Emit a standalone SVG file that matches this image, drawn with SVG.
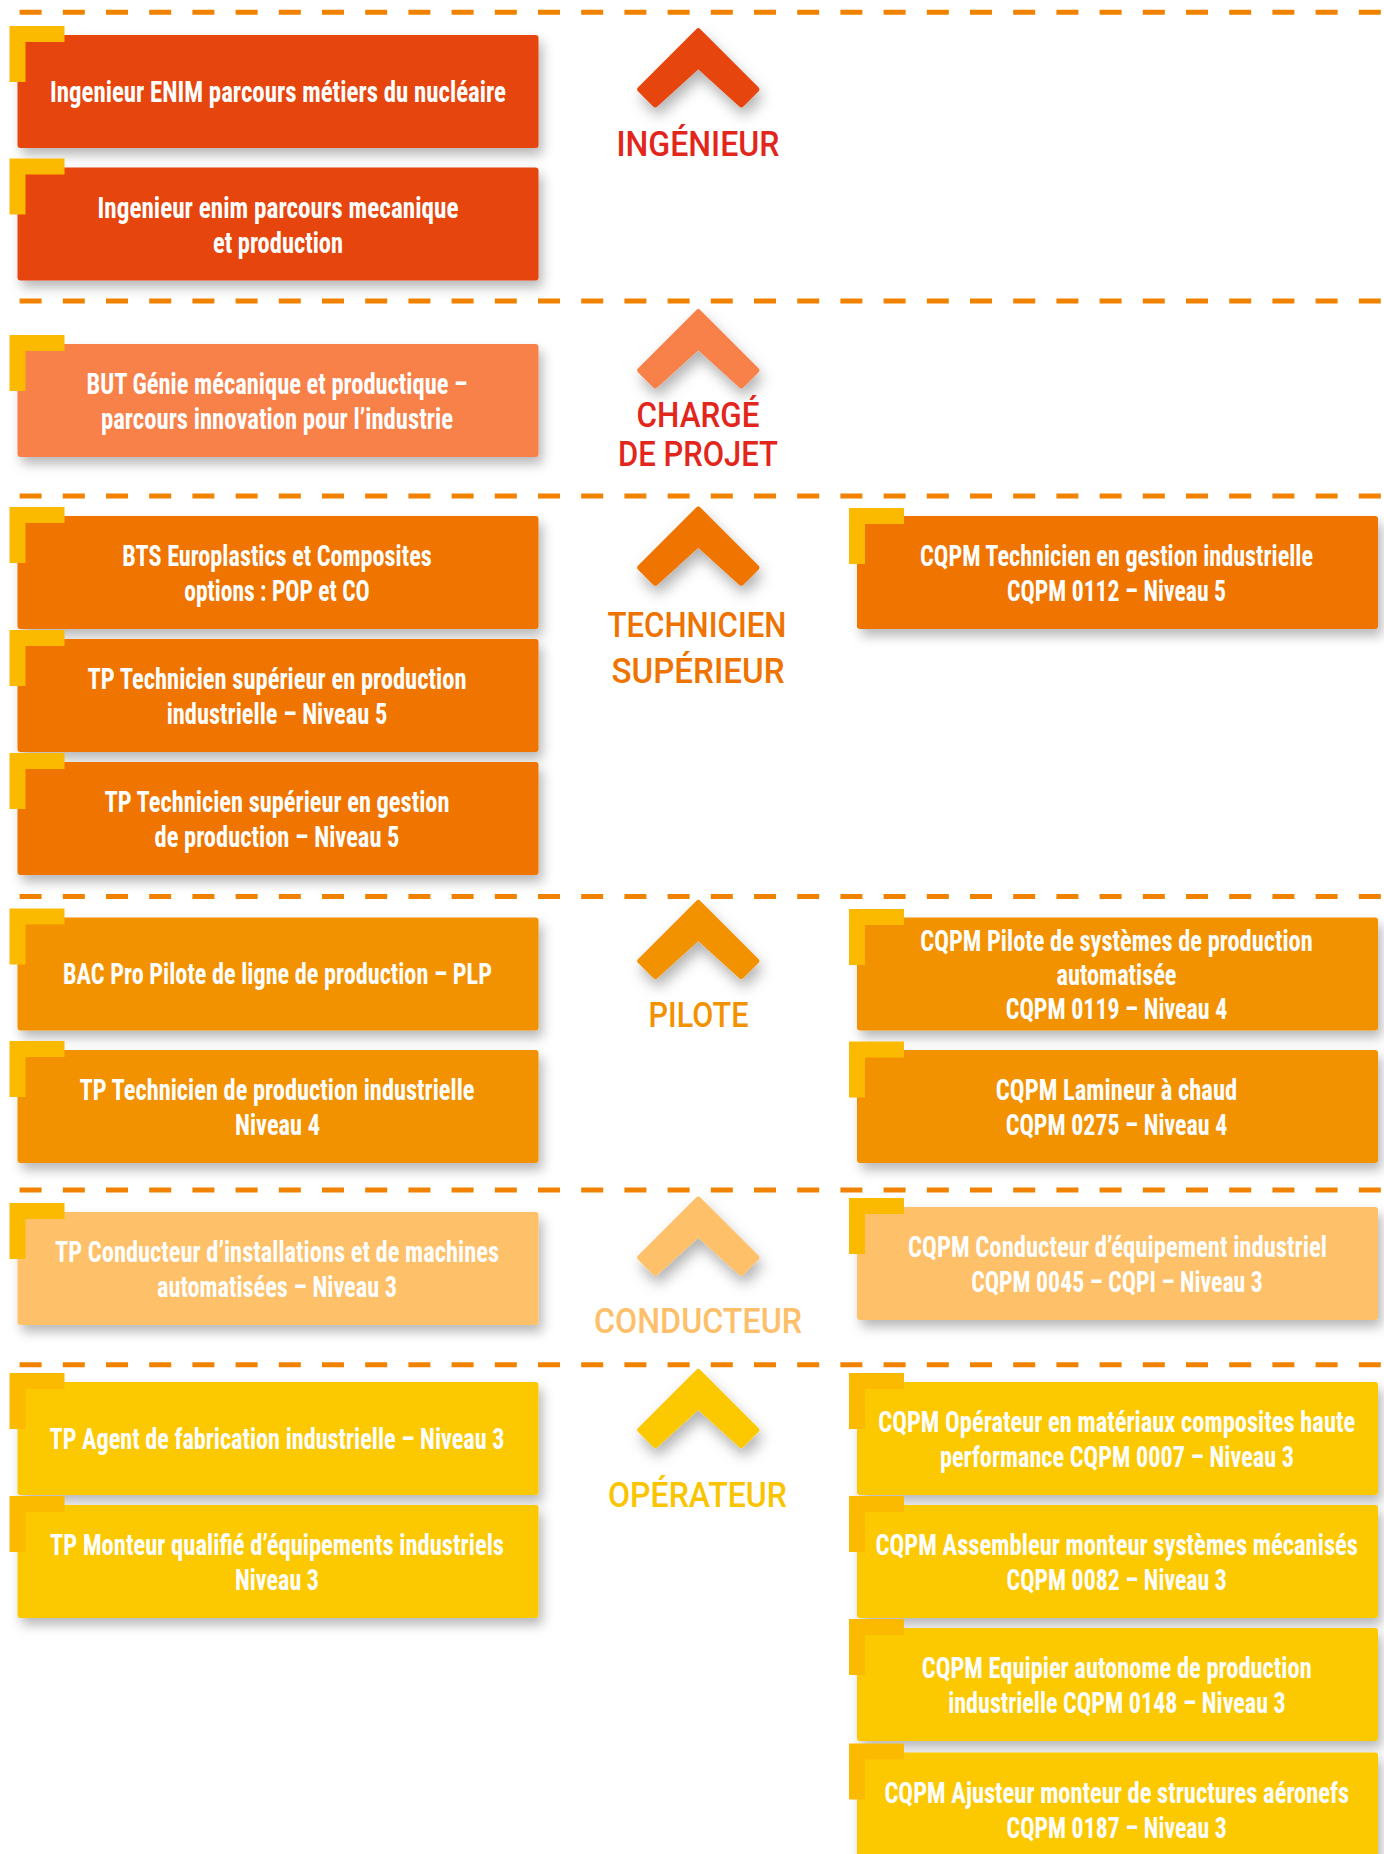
<svg xmlns="http://www.w3.org/2000/svg" xmlns:xlink="http://www.w3.org/1999/xlink" width="1384" height="1854" viewBox="0 0 1384 1854">
<style>
.bg{fill:#ffffff}
.dash{stroke:#F18200;stroke-width:5;stroke-dasharray:22 21.2;fill:none}
.card{filter:url(#sh)}
.acc{fill:#FBB900}
.t{font-family:"Liberation Sans Narrow","Roboto Condensed","DejaVu Sans Condensed","Liberation Sans",sans-serif;font-weight:bold;font-size:29px;fill:#ffffff;text-anchor:middle}
.lab{font-family:Roboto,"Liberation Sans",sans-serif;font-weight:500;font-size:35px;text-anchor:middle}
.c1{fill:#E6450F}.c2{fill:#F8804A}.c3{fill:#EF7500}.c4{fill:#F39200}.c5{fill:#FEC068}.c6{fill:#FCC900}
.chev{filter:url(#sh2);stroke-width:6;stroke-linejoin:round}
</style>
<defs>
<filter id="sh" x="-10%" y="-20%" width="125%" height="160%">
<feDropShadow dx="4" dy="7" stdDeviation="6" flood-color="#000" flood-opacity="0.28"/>
</filter>
<filter id="sh2" x="-40%" y="-30%" width="180%" height="180%">
<feDropShadow dx="3" dy="8" stdDeviation="7" flood-color="#000" flood-opacity="0.3"/>
</filter>
<path id="chev" d="M0,3 L-58,61 L-43,76 L0,37 L43,76 L58,61 Z"/>
</defs>
<rect class="bg" x="0" y="0" width="1384" height="1854"/>

<g id="separators">
<line class="dash" x1="19.6" y1="12.3" x2="1384" y2="12.3"/>
<line class="dash" x1="19.6" y1="301" x2="1384" y2="301"/>
<line class="dash" x1="19.6" y1="496" x2="1384" y2="496"/>
<line class="dash" x1="19.6" y1="896.5" x2="1384" y2="896.5"/>
<line class="dash" x1="19.6" y1="1190" x2="1384" y2="1190"/>
<line class="dash" x1="19.6" y1="1364.7" x2="1384" y2="1364.7"/>
</g>

<g id="levels">
<g id="lvl-ingenieur">
<use href="#chev" class="chev c1" stroke="#E6450F" transform="translate(698.3,28.3)"/>
<text class="lab" fill="#E2261C" x="698" y="156" textLength="163" lengthAdjust="spacingAndGlyphs">INGÉNIEUR</text>
</g>
<g id="lvl-charge">
<use href="#chev" class="chev c2" stroke="#F8804A" transform="translate(698.3,309.3)"/>
<text class="lab" fill="#E2261C" x="698" y="426.7" textLength="123" lengthAdjust="spacingAndGlyphs">CHARGÉ</text>
<text class="lab" fill="#E2261C" x="698" y="465.7" textLength="160" lengthAdjust="spacingAndGlyphs">DE PROJET</text>
</g>
<g id="lvl-technicien">
<use href="#chev" class="chev c3" stroke="#EF7500" transform="translate(698.3,506.7)"/>
<text class="lab" fill="#EE7300" x="697" y="637.3" textLength="179" lengthAdjust="spacingAndGlyphs">TECHNICIEN</text>
<text class="lab" fill="#EE7300" x="698" y="682.7" textLength="173" lengthAdjust="spacingAndGlyphs">SUPÉRIEUR</text>
</g>
<g id="lvl-pilote">
<use href="#chev" class="chev c4" stroke="#F39200" transform="translate(698.3,900)"/>
<text class="lab" fill="#F39200" x="698.5" y="1026.7" textLength="100" lengthAdjust="spacingAndGlyphs">PILOTE</text>
</g>
<g id="lvl-conducteur">
<use href="#chev" class="chev c5" stroke="#FEC068" transform="translate(698.3,1196.7)"/>
<text class="lab" fill="#FDBF6A" x="698" y="1332.7" textLength="208" lengthAdjust="spacingAndGlyphs">CONDUCTEUR</text>
</g>
<g id="lvl-operateur">
<use href="#chev" class="chev c6" stroke="#FCC900" transform="translate(698.3,1369)"/>
<text class="lab" fill="#FAC500" x="697.5" y="1507.3" textLength="179" lengthAdjust="spacingAndGlyphs">OPÉRATEUR</text>
</g>
</g>

<g id="connectors"></g>

<!-- Left column -->
<g id="L1">
<rect class="card c1" x="17.5" y="35" width="521" height="113" rx="3"/>
<path class="acc" d="M9.5,26 h55 v16 h-39 v40 h-16 Z"/>
<text class="t" x="278" y="101.5" textLength="456" lengthAdjust="spacingAndGlyphs">Ingenieur ENIM parcours métiers du nucléaire</text>
</g>
<g id="L2">
<rect class="card c1" x="17.5" y="167.5" width="521" height="113" rx="3"/>
<path class="acc" d="M9.5,158.5 h55 v16 h-39 v40 h-16 Z"/>
<text class="t" x="278" y="217.5" textLength="361" lengthAdjust="spacingAndGlyphs">Ingenieur enim parcours mecanique</text>
<text class="t" x="278" y="252.5" textLength="130" lengthAdjust="spacingAndGlyphs">et production</text>
</g>
<g id="L3">
<rect class="card c2" x="17.5" y="344" width="521" height="113" rx="3"/>
<path class="acc" d="M9.5,335 h55 v16 h-39 v40 h-16 Z"/>
<text class="t" x="277" y="394" textLength="381" lengthAdjust="spacingAndGlyphs">BUT Génie mécanique et productique –</text>
<text class="t" x="277" y="429" textLength="352" lengthAdjust="spacingAndGlyphs">parcours innovation pour l’industrie</text>
</g>
<g id="L4">
<rect class="card c3" x="17.5" y="516" width="521" height="113" rx="3"/>
<path class="acc" d="M9.5,507 h55 v16 h-39 v40 h-16 Z"/>
<text class="t" x="277" y="566" textLength="309.5" lengthAdjust="spacingAndGlyphs">BTS Europlastics et Composites</text>
<text class="t" x="277" y="601" textLength="185.6" lengthAdjust="spacingAndGlyphs">options : POP et CO</text>
</g>
<g id="L5">
<rect class="card c3" x="17.5" y="639" width="521" height="113" rx="3"/>
<path class="acc" d="M9.5,630 h55 v16 h-39 v40 h-16 Z"/>
<text class="t" x="277" y="689" textLength="379" lengthAdjust="spacingAndGlyphs">TP Technicien supérieur en production</text>
<text class="t" x="277" y="724" textLength="220.6" lengthAdjust="spacingAndGlyphs">industrielle – Niveau 5</text>
</g>
<g id="L6">
<rect class="card c3" x="17.5" y="762" width="521" height="113" rx="3"/>
<path class="acc" d="M9.5,753 h55 v16 h-39 v40 h-16 Z"/>
<text class="t" x="277" y="812" textLength="345" lengthAdjust="spacingAndGlyphs">TP Technicien supérieur en gestion</text>
<text class="t" x="277" y="847" textLength="245" lengthAdjust="spacingAndGlyphs">de production – Niveau 5</text>
</g>
<g id="L7">
<rect class="card c4" x="17.5" y="917.5" width="521" height="113" rx="3"/>
<path class="acc" d="M9.5,908.5 h55 v16 h-39 v40 h-16 Z"/>
<text class="t" x="277.5" y="984" textLength="429" lengthAdjust="spacingAndGlyphs">BAC Pro Pilote de ligne de production – PLP</text>
</g>
<g id="L8">
<rect class="card c4" x="17.5" y="1050" width="521" height="113" rx="3"/>
<path class="acc" d="M9.5,1041 h55 v16 h-39 v40 h-16 Z"/>
<text class="t" x="277" y="1100" textLength="395" lengthAdjust="spacingAndGlyphs">TP Technicien de production industrielle</text>
<text class="t" x="277.5" y="1135" textLength="85" lengthAdjust="spacingAndGlyphs">Niveau 4</text>
</g>
<g id="L9">
<rect class="card c5" x="17.5" y="1212" width="521" height="113" rx="3"/>
<path class="acc" d="M9.5,1203 h55 v16 h-39 v40 h-16 Z"/>
<text class="t" x="277" y="1262" textLength="444" lengthAdjust="spacingAndGlyphs">TP Conducteur d’installations et de machines</text>
<text class="t" x="277" y="1297" textLength="240" lengthAdjust="spacingAndGlyphs">automatisées – Niveau 3</text>
</g>
<g id="L10">
<rect class="card c6" x="17.5" y="1382" width="521" height="113" rx="3"/>
<path class="acc" d="M9.5,1373 h55 v16 h-39 v40 h-16 Z"/>
<text class="t" x="277" y="1448.5" textLength="455" lengthAdjust="spacingAndGlyphs">TP Agent de fabrication industrielle – Niveau 3</text>
</g>
<g id="L11">
<rect class="card c6" x="17.5" y="1505" width="521" height="113" rx="3"/>
<path class="acc" d="M9.5,1496 h55 v16 h-39 v40 h-16 Z"/>
<text class="t" x="277" y="1555" textLength="454" lengthAdjust="spacingAndGlyphs">TP Monteur qualifié d’équipements industriels</text>
<text class="t" x="277" y="1590" textLength="84" lengthAdjust="spacingAndGlyphs">Niveau 3</text>
</g>

<!-- Right column -->
<g id="R1">
<rect class="card c3" x="857" y="516" width="521" height="113" rx="3"/>
<path class="acc" d="M849,508 h55 v16 h-39 v40 h-16 Z"/>
<text class="t" x="1116.5" y="566" textLength="393" lengthAdjust="spacingAndGlyphs">CQPM Technicien en gestion industrielle</text>
<text class="t" x="1116.5" y="601" textLength="219" lengthAdjust="spacingAndGlyphs">CQPM 0112 – Niveau 5</text>
</g>
<g id="R2">
<rect class="card c4" x="857" y="917.5" width="521" height="113" rx="3"/>
<path class="acc" d="M849,909 h55 v16 h-39 v40 h-16 Z"/>
<text class="t" x="1116.5" y="951" textLength="392.5" lengthAdjust="spacingAndGlyphs">CQPM Pilote de systèmes de production</text>
<text class="t" x="1116.5" y="985" textLength="120" lengthAdjust="spacingAndGlyphs">automatisée</text>
<text class="t" x="1116.5" y="1019" textLength="221.5" lengthAdjust="spacingAndGlyphs">CQPM 0119 – Niveau 4</text>
</g>
<g id="R3">
<rect class="card c4" x="857" y="1050" width="521" height="113" rx="3"/>
<path class="acc" d="M849,1041.5 h55 v16 h-39 v40 h-16 Z"/>
<text class="t" x="1116.5" y="1100" textLength="241.5" lengthAdjust="spacingAndGlyphs">CQPM Lamineur à chaud</text>
<text class="t" x="1116.5" y="1135" textLength="221.5" lengthAdjust="spacingAndGlyphs">CQPM 0275 – Niveau 4</text>
</g>
<g id="R4">
<rect class="card c5" x="857" y="1207" width="521" height="113" rx="3"/>
<path class="acc" d="M849,1198 h55 v16 h-39 v40 h-16 Z"/>
<text class="t" x="1117.5" y="1257" textLength="419" lengthAdjust="spacingAndGlyphs">CQPM Conducteur d’équipement industriel</text>
<text class="t" x="1117" y="1292" textLength="291.6" lengthAdjust="spacingAndGlyphs">CQPM 0045 – CQPI – Niveau 3</text>
</g>
<g id="R5">
<rect class="card c6" x="857" y="1382" width="521" height="113" rx="3"/>
<path class="acc" d="M849,1373 h55 v16 h-39 v40 h-16 Z"/>
<text class="t" x="1116.7" y="1432" textLength="477" lengthAdjust="spacingAndGlyphs">CQPM Opérateur en matériaux composites haute</text>
<text class="t" x="1117" y="1467" textLength="354" lengthAdjust="spacingAndGlyphs">performance CQPM 0007 – Niveau 3</text>
</g>
<g id="R6">
<rect class="card c6" x="857" y="1505" width="521" height="113" rx="3"/>
<path class="acc" d="M849,1496 h55 v16 h-39 v40 h-16 Z"/>
<text class="t" x="1116.7" y="1555" textLength="482.6" lengthAdjust="spacingAndGlyphs">CQPM Assembleur monteur systèmes mécanisés</text>
<text class="t" x="1116.7" y="1590" textLength="220.3" lengthAdjust="spacingAndGlyphs">CQPM 0082 – Niveau 3</text>
</g>
<g id="R7">
<rect class="card c6" x="857" y="1628" width="521" height="113" rx="3"/>
<path class="acc" d="M849,1619 h55 v16 h-39 v40 h-16 Z"/>
<text class="t" x="1116.7" y="1678" textLength="390" lengthAdjust="spacingAndGlyphs">CQPM Equipier autonome de production</text>
<text class="t" x="1117" y="1713" textLength="337.6" lengthAdjust="spacingAndGlyphs">industrielle CQPM 0148 – Niveau 3</text>
</g>
<g id="R8">
<rect class="card c6" x="857" y="1752.5" width="521" height="113" rx="3"/>
<path class="acc" d="M849,1743.5 h55 v16 h-39 v40 h-16 Z"/>
<text class="t" x="1116.8" y="1802.5" textLength="464.8" lengthAdjust="spacingAndGlyphs">CQPM Ajusteur monteur de structures aéronefs</text>
<text class="t" x="1116.7" y="1837.5" textLength="220.3" lengthAdjust="spacingAndGlyphs">CQPM 0187 – Niveau 3</text>
</g>
</svg>
